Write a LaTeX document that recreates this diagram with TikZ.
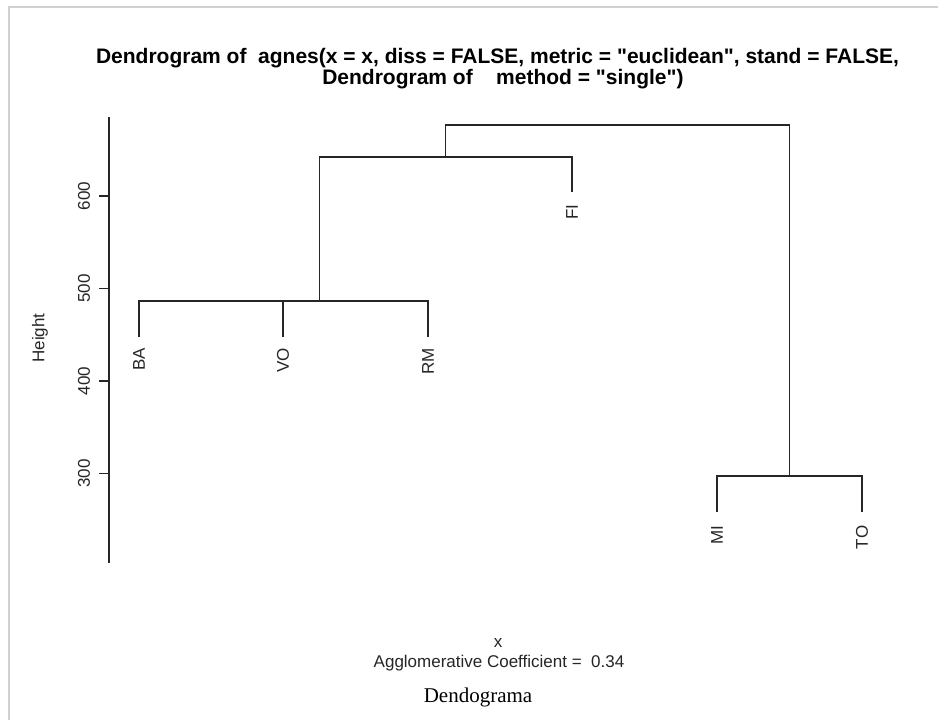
\documentclass[tikz,border=0pt]{standalone}
\usepackage{fontspec}
% plain font families, so that " stays a straight double quote
\newfontfamily\plotfont{Liberation Sans}
\newfontfamily\captionfont{Liberation Serif}
\begin{document}
\begin{tikzpicture}[x=1pt,y=-1pt,
  frameline/.style={draw=black!18, line width=2pt},
  branch/.style={draw=black!85, line width=1.4pt},
  axisline/.style={draw=black!85, line width=1.4pt},
  lbl/.style={inner sep=0pt, text=black!85, font=\plotfont\fontsize{17pt}{20pt}\selectfont},
  leaflab/.style={lbl, rotate=90, anchor=east},
  ticklab/.style={lbl, rotate=90, anchor=center},
  titlefont/.style={inner sep=0pt, text=black, font=\plotfont\fontsize{21pt}{24pt}\selectfont\bfseries}
]
\useasboundingbox (0,0) rectangle (938,720);
\fill[white] (0,0) rectangle (938,720);
% outer frame (top and left edges)
\draw[frameline] (9,720) -- (9,7) -- (938,7);

% title
\node[titlefont, anchor=base] (t1) at (497.5,63)
  {Dendrogram of \ agnes(x = x, diss = FALSE, metric = "euclidean", stand = FALSE,};
\node[titlefont, anchor=base east] (t2a) at (473,84) {Dendrogram of};
\node[titlefont, anchor=base west] (t2b) at (496,84) {method = "single")};

% height axis
\coordinate (atop) at (109,117);
\coordinate (abot) at (109,563);
\draw[axisline] (atop) -- (abot);
\foreach \v/\yy in {600/196, 500/288.5, 400/381, 300/473.5} {
  \coordinate (tk\v) at (109,\yy);
  \draw[axisline] (tk\v) -- ++(-10,0);
  \node[ticklab] (tl\v) at (84,\yy) {\v};
}
\node[ticklab] (ylab) at (40,338) {Height};

% leaf tips
\coordinate (BA) at (139,337);
\coordinate (VO) at (283,337);
\coordinate (RM) at (428,337);
\coordinate (FI) at (572,192.3);
\coordinate (MI) at (717,511.5);
\coordinate (TO) at (862,511.5);

% merge points
\coordinate (j1) at (319.5,301);
\coordinate (j2) at (445.75,157);
\coordinate (j3) at (789.5,476);
\coordinate (j4) at (617.6,125);

% branches
\draw[branch] (BA) |- (j1) -| (RM);
\draw[branch] (VO) -- (VO |- j1);
\draw[branch] (j1) |- (j2) -| (FI);
\draw[branch] (MI) |- (j3) -| (TO);
\draw[branch] (j2) |- (j4) -| (j3);

% leaf labels, hanging below each tip
\node[leaflab] (lBA) at ([yshift=-11pt]BA) {BA};
\node[leaflab] (lVO) at ([yshift=-11pt]VO) {VO};
\node[leaflab] (lRM) at ([yshift=-11pt]RM) {RM};
\node[leaflab] (lFI) at ([yshift=-12pt]FI) {FI};
\node[leaflab] (lMI) at ([yshift=-14pt]MI) {MI};
\node[leaflab] (lTO) at ([yshift=-14pt]TO) {TO};

% bottom annotations
\node[lbl, anchor=base] (xlab) at (498,647) {x};
\node[lbl, anchor=base] (coef) at (499,667) {Agglomerative Coefficient = \ 0.34};
\node[inner sep=0pt, anchor=base, font=\captionfont\fontsize{21pt}{24pt}\selectfont] (cap) at (478,702) {Dendograma};
\end{tikzpicture}
\end{document}
